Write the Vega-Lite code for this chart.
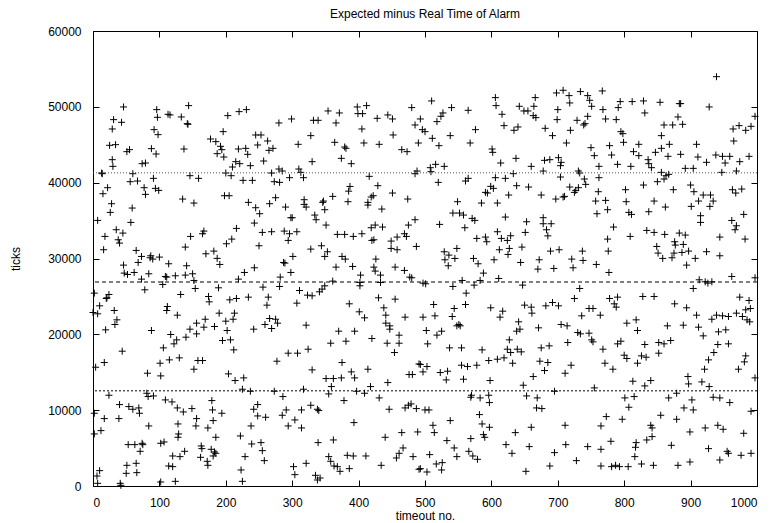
{
"$schema": "https://vega.github.io/schema/vega-lite/v6.json",
"width": 664, "height": 455,
"autosize": {"type": "none"},
"padding": {"left": 93, "top": 31, "right": 14, "bottom": 37},
"background": "white",
"title": {"text": "Expected minus Real Time of Alarm", "font": "Liberation Sans", "fontSize": 12, "fontWeight": "normal", "color": "black", "offset": 4},
"config": {
  "view": {"stroke": "black", "strokeWidth": 1},
  "axis": {"grid": false, "domain": false, "tickColor": "black", "tickSize": -6, "labelFont": "Liberation Sans", "labelFontSize": 12, "labelColor": "black", "titleFont": "Liberation Sans", "titleFontSize": 12, "titleFontWeight": "normal", "titleColor": "black", "format": "d"}
},
"datasets": {
"pts": [
{"x":46,"y":49984},{"x":96,"y":49632},{"x":144,"y":50160},{"x":113,"y":49016},{"x":116,"y":48928},{"x":97,"y":48620},{"x":133,"y":48664},{"x":31,"y":48312},{"x":43,"y":47960},{"x":142,"y":47784},{"x":143,"y":47696},{"x":29,"y":47080},{"x":92,"y":46992},{"x":98,"y":46332},{"x":25,"y":44924},{"x":34,"y":45012},{"x":51,"y":44088},{"x":55,"y":44352},{"x":88,"y":44484},{"x":95,"y":43780},{"x":137,"y":44440},{"x":29,"y":43032},{"x":30,"y":42152},{"x":74,"y":42504},{"x":79,"y":42592},{"x":13,"y":41272},{"x":14,"y":41184},{"x":60,"y":41184},{"x":146,"y":40920},{"x":159,"y":40568},{"x":91,"y":40568},{"x":56,"y":40128},{"x":67,"y":40216},{"x":22,"y":39336},{"x":15,"y":38544},{"x":77,"y":39336},{"x":94,"y":39248},{"x":99,"y":38984},{"x":79,"y":38456},{"x":135,"y":37840},{"x":152,"y":37312},{"x":28,"y":37224},{"x":26,"y":36080},{"x":59,"y":36652},{"x":7,"y":35024},{"x":57,"y":34760},{"x":35,"y":33792},{"x":45,"y":33352},{"x":18,"y":32912},{"x":38,"y":32472},{"x":40,"y":32032},{"x":147,"y":32912},{"x":16,"y":31152},{"x":139,"y":31504},{"x":65,"y":31064},{"x":73,"y":30272},{"x":87,"y":30360},{"x":86,"y":30096},{"x":100,"y":30184},{"x":68,"y":29480},{"x":46,"y":29128},{"x":90,"y":29920},{"x":114,"y":29304},{"x":141,"y":29040},{"x":47,"y":28072},{"x":52,"y":27896},{"x":62,"y":28160},{"x":84,"y":27984},{"x":109,"y":27632},{"x":111,"y":27544},{"x":124,"y":27720},{"x":139,"y":27808},{"x":150,"y":27984},{"x":73,"y":27280},{"x":105,"y":26576},{"x":152,"y":27104},{"x":2,"y":25432},{"x":24,"y":25256},{"x":20,"y":24728},{"x":21,"y":24816},{"x":78,"y":25872},{"x":132,"y":25256},{"x":154,"y":26048},{"x":10,"y":23760},{"x":112,"y":23672},{"x":111,"y":23144},{"x":127,"y":22528},{"x":32,"y":23144},{"x":7,"y":22704},{"x":0,"y":22880},{"x":36,"y":21912},{"x":33,"y":21296},{"x":19,"y":20592},{"x":88,"y":20504},{"x":156,"y":21472},{"x":146,"y":20680},{"x":117,"y":19976},{"x":140,"y":19624},{"x":156,"y":20064},{"x":126,"y":19272},{"x":122,"y":18744},{"x":106,"y":18216},{"x":44,"y":17776},{"x":17,"y":16280},{"x":115,"y":16632},{"x":130,"y":16896},{"x":158,"y":16544},{"x":4,"y":15664},{"x":101,"y":16192},{"x":152,"y":15400},{"x":82,"y":14872},{"x":102,"y":14520},{"x":24,"y":11968},{"x":81,"y":12232},{"x":83,"y":11792},{"x":91,"y":11880},{"x":40,"y":10736},{"x":54,"y":10472},{"x":60,"y":10120},{"x":69,"y":10296},{"x":70,"y":9592},{"x":109,"y":11352},{"x":119,"y":11088},{"x":127,"y":10296},{"x":136,"y":9768},{"x":149,"y":10208},{"x":2,"y":9592},{"x":17,"y":8888},{"x":39,"y":8888},{"x":156,"y":8888},{"x":128,"y":8184},{"x":84,"y":7920},{"x":155,"y":7920},{"x":12,"y":7304},{"x":2,"y":6864},{"x":129,"y":6864},{"x":128,"y":6424},{"x":53,"y":5456},{"x":63,"y":5456},{"x":74,"y":5632},{"x":75,"y":5456},{"x":102,"y":5632},{"x":107,"y":5808},{"x":71,"y":4576},{"x":138,"y":4576},{"x":120,"y":3960},{"x":131,"y":3872},{"x":65,"y":2992},{"x":51,"y":2728},{"x":114,"y":2640},{"x":120,"y":2552},{"x":10,"y":2024},{"x":6,"y":1320},{"x":50,"y":1672},{"x":66,"y":1760},{"x":7,"y":352},{"x":41,"y":352},{"x":42,"y":88},{"x":102,"y":528},{"x":124,"y":616},
{"x":231,"y":49632},{"x":220,"y":49368},{"x":203,"y":48840},{"x":280,"y":47872},{"x":299,"y":48400},{"x":196,"y":46728},{"x":177,"y":45760},{"x":185,"y":45408},{"x":192,"y":44792},{"x":194,"y":44352},{"x":187,"y":43824},{"x":197,"y":43384},{"x":245,"y":46288},{"x":253,"y":46288},{"x":248,"y":44968},{"x":263,"y":45496},{"x":309,"y":45056},{"x":219,"y":44440},{"x":230,"y":44528},{"x":233,"y":43736},{"x":265,"y":44264},{"x":271,"y":44528},{"x":257,"y":42856},{"x":215,"y":42768},{"x":221,"y":42504},{"x":210,"y":42064},{"x":237,"y":42240},{"x":200,"y":41272},{"x":208,"y":40920},{"x":226,"y":40304},{"x":240,"y":40304},{"x":269,"y":41272},{"x":280,"y":41800},{"x":285,"y":41536},{"x":273,"y":40128},{"x":281,"y":40040},{"x":296,"y":40656},{"x":310,"y":41800},{"x":313,"y":41360},{"x":317,"y":40656},{"x":198,"y":38280},{"x":205,"y":38280},{"x":234,"y":37400},{"x":245,"y":36696},{"x":251,"y":35904},{"x":266,"y":37224},{"x":275,"y":38016},{"x":290,"y":36784},{"x":318,"y":37752},{"x":318,"y":37136},{"x":321,"y":36784},{"x":298,"y":35376},{"x":300,"y":35376},{"x":243,"y":34672},{"x":216,"y":33968},{"x":255,"y":33440},{"x":269,"y":33528},{"x":288,"y":33616},{"x":296,"y":33264},{"x":307,"y":33528},{"x":294,"y":32384},{"x":209,"y":32560},{"x":201,"y":31944},{"x":250,"y":31680},{"x":165,"y":33264},{"x":167,"y":33616},{"x":182,"y":30976},{"x":187,"y":30016},{"x":191,"y":29216},{"x":170,"y":30624},{"x":301,"y":30272},{"x":287,"y":29480},{"x":289,"y":29392},{"x":298,"y":28160},{"x":243,"y":28776},{"x":228,"y":28160},{"x":219,"y":27280},{"x":282,"y":27544},{"x":189,"y":26136},{"x":174,"y":24992},{"x":175,"y":24288},{"x":256,"y":26224},{"x":281,"y":26312},{"x":311,"y":25784},{"x":323,"y":25168},{"x":206,"y":24552},{"x":216,"y":24728},{"x":234,"y":24904},{"x":264,"y":24904},{"x":262,"y":23848},{"x":307,"y":24112},{"x":190,"y":22792},{"x":213,"y":22792},{"x":211,"y":21992},{"x":200,"y":21736},{"x":169,"y":21992},{"x":167,"y":20944},{"x":183,"y":21032},{"x":202,"y":20504},{"x":242,"y":20680},{"x":266,"y":22088},{"x":275,"y":21992},{"x":259,"y":21296},{"x":269,"y":20768},{"x":278,"y":21472},{"x":321,"y":21208},{"x":195,"y":19184},{"x":207,"y":19272},{"x":212,"y":17952},{"x":165,"y":16544},{"x":277,"y":16456},{"x":294,"y":17512},{"x":308,"y":17512},{"x":324,"y":18040},{"x":204,"y":14784},{"x":214,"y":13904},{"x":227,"y":14256},{"x":225,"y":12760},{"x":237,"y":12496},{"x":273,"y":12496},{"x":286,"y":11792},{"x":317,"y":12760},{"x":179,"y":11264},{"x":180,"y":10032},{"x":194,"y":9592},{"x":181,"y":8624},{"x":173,"y":7656},{"x":242,"y":10120},{"x":248,"y":10736},{"x":248,"y":9240},{"x":260,"y":9064},{"x":285,"y":9328},{"x":291,"y":10032},{"x":304,"y":8712},{"x":314,"y":10032},{"x":314,"y":7656},{"x":238,"y":7920},{"x":294,"y":7920},{"x":222,"y":6600},{"x":185,"y":6424},{"x":239,"y":5544},{"x":253,"y":5720},{"x":255,"y":4664},{"x":163,"y":5280},{"x":164,"y":4928},{"x":178,"y":4840},{"x":183,"y":4488},{"x":185,"y":4312},{"x":181,"y":3960},{"x":172,"y":3256},{"x":173,"y":2728},{"x":162,"y":3784},{"x":229,"y":3872},{"x":258,"y":3344},{"x":223,"y":2112},{"x":225,"y":616},{"x":302,"y":2552},{"x":304,"y":1496},{"x":321,"y":2992},
{"x":354,"y":49456},{"x":371,"y":49192},{"x":398,"y":49984},{"x":412,"y":50160},{"x":399,"y":49104},{"x":406,"y":49104},{"x":332,"y":48224},{"x":339,"y":48224},{"x":366,"y":47872},{"x":428,"y":48488},{"x":444,"y":48928},{"x":451,"y":48400},{"x":480,"y":49896},{"x":485,"y":47608},{"x":405,"y":47080},{"x":328,"y":46200},{"x":364,"y":45320},{"x":379,"y":44704},{"x":381,"y":44528},{"x":408,"y":45232},{"x":431,"y":45056},{"x":452,"y":46288},{"x":490,"y":45232},{"x":465,"y":44352},{"x":473,"y":44088},{"x":374,"y":43208},{"x":389,"y":42504},{"x":330,"y":42768},{"x":485,"y":41184},{"x":488,"y":41536},{"x":416,"y":40832},{"x":387,"y":39504},{"x":385,"y":38880},{"x":429,"y":39600},{"x":451,"y":38632},{"x":422,"y":38280},{"x":419,"y":38104},{"x":361,"y":38192},{"x":347,"y":37576},{"x":346,"y":37400},{"x":384,"y":37488},{"x":414,"y":37400},{"x":414,"y":37048},{"x":435,"y":36520},{"x":474,"y":37840},{"x":349,"y":36432},{"x":334,"y":35728},{"x":336,"y":35112},{"x":351,"y":34408},{"x":368,"y":33176},{"x":379,"y":33176},{"x":392,"y":32912},{"x":405,"y":33264},{"x":419,"y":34056},{"x":425,"y":34408},{"x":436,"y":34144},{"x":420,"y":32384},{"x":423,"y":32472},{"x":449,"y":32296},{"x":458,"y":32824},{"x":469,"y":33264},{"x":472,"y":32912},{"x":475,"y":34408},{"x":485,"y":35112},{"x":328,"y":31240},{"x":344,"y":31680},{"x":353,"y":30888},{"x":349,"y":30272},{"x":375,"y":30272},{"x":380,"y":29920},{"x":449,"y":31328},{"x":458,"y":31152},{"x":487,"y":31592},{"x":366,"y":28864},{"x":391,"y":28952},{"x":426,"y":29920},{"x":423,"y":28864},{"x":425,"y":28336},{"x":433,"y":27808},{"x":455,"y":28864},{"x":469,"y":28424},{"x":477,"y":27544},{"x":480,"y":27456},{"x":403,"y":27808},{"x":402,"y":26840},{"x":402,"y":26400},{"x":433,"y":26840},{"x":361,"y":27016},{"x":349,"y":26400},{"x":345,"y":25960},{"x":341,"y":25608},{"x":330,"y":25080},{"x":386,"y":24024},{"x":401,"y":22968},{"x":409,"y":22176},{"x":430,"y":24816},{"x":455,"y":24640},{"x":438,"y":23496},{"x":441,"y":22528},{"x":441,"y":21472},{"x":447,"y":21120},{"x":447,"y":20680},{"x":461,"y":19888},{"x":470,"y":22264},{"x":370,"y":20416},{"x":394,"y":20416},{"x":358,"y":18832},{"x":381,"y":19096},{"x":420,"y":19448},{"x":443,"y":18832},{"x":461,"y":18832},{"x":454,"y":17600},{"x":375,"y":16280},{"x":330,"y":15312},{"x":389,"y":15048},{"x":394,"y":14256},{"x":414,"y":15400},{"x":351,"y":14168},{"x":362,"y":14168},{"x":374,"y":14256},{"x":359,"y":13112},{"x":355,"y":12144},{"x":397,"y":12496},{"x":409,"y":12232},{"x":418,"y":13112},{"x":444,"y":13640},{"x":476,"y":14696},{"x":481,"y":14696},{"x":491,"y":16104},{"x":328,"y":10648},{"x":338,"y":10120},{"x":340,"y":9944},{"x":378,"y":11264},{"x":431,"y":11616},{"x":446,"y":10120},{"x":470,"y":10296},{"x":475,"y":10648},{"x":479,"y":10824},{"x":487,"y":10208},{"x":393,"y":8360},{"x":339,"y":5720},{"x":362,"y":6072},{"x":440,"y":6424},{"x":465,"y":7040},{"x":489,"y":7128},{"x":467,"y":5016},{"x":461,"y":4312},{"x":457,"y":3696},{"x":355,"y":3872},{"x":358,"y":3256},{"x":363,"y":2640},{"x":368,"y":2552},{"x":372,"y":1936},{"x":383,"y":4048},{"x":392,"y":3960},{"x":411,"y":3960},{"x":386,"y":2288},{"x":434,"y":2728},{"x":482,"y":3872},{"x":335,"y":1408},{"x":342,"y":1056},{"x":338,"y":792},{"x":491,"y":2200},
{"x":510,"y":50776},{"x":540,"y":49896},{"x":565,"y":49544},{"x":606,"y":51216},{"x":607,"y":50160},{"x":616,"y":49016},{"x":642,"y":50072},{"x":649,"y":49456},{"x":655,"y":49456},{"x":493,"y":48400},{"x":527,"y":49192},{"x":524,"y":48752},{"x":518,"y":48048},{"x":576,"y":46992},{"x":619,"y":47520},{"x":634,"y":46904},{"x":640,"y":47344},{"x":496,"y":46992},{"x":500,"y":46728},{"x":511,"y":45848},{"x":538,"y":46200},{"x":521,"y":44880},{"x":568,"y":45232},{"x":601,"y":44440},{"x":602,"y":44000},{"x":614,"y":42592},{"x":637,"y":43208},{"x":516,"y":42416},{"x":529,"y":42152},{"x":508,"y":41976},{"x":509,"y":41448},{"x":520,"y":40040},{"x":561,"y":40216},{"x":565,"y":40568},{"x":591,"y":38720},{"x":594,"y":38632},{"x":599,"y":39512},{"x":603,"y":39248},{"x":606,"y":40656},{"x":621,"y":40568},{"x":633,"y":41184},{"x":638,"y":39600},{"x":656,"y":39424},{"x":626,"y":38368},{"x":549,"y":37488},{"x":585,"y":37312},{"x":609,"y":37312},{"x":542,"y":35992},{"x":552,"y":35992},{"x":558,"y":35728},{"x":571,"y":35288},{"x":575,"y":35024},{"x":560,"y":34056},{"x":522,"y":34496},{"x":621,"y":35464},{"x":653,"y":34848},{"x":651,"y":33440},{"x":578,"y":32648},{"x":591,"y":32824},{"x":593,"y":32208},{"x":609,"y":33528},{"x":615,"y":32648},{"x":624,"y":32384},{"x":629,"y":33000},{"x":612,"y":31152},{"x":627,"y":31328},{"x":625,"y":30536},{"x":646,"y":31504},{"x":644,"y":29480},{"x":529,"y":30888},{"x":536,"y":30448},{"x":545,"y":30008},{"x":548,"y":31328},{"x":530,"y":29832},{"x":535,"y":29040},{"x":573,"y":30008},{"x":580,"y":29304},{"x":588,"y":28072},{"x":604,"y":29832},{"x":497,"y":26752},{"x":501,"y":26664},{"x":542,"y":26312},{"x":556,"y":27104},{"x":574,"y":26488},{"x":583,"y":27104},{"x":611,"y":27368},{"x":647,"y":26488},{"x":562,"y":25432},{"x":561,"y":23936},{"x":513,"y":23936},{"x":544,"y":23408},{"x":497,"y":22264},{"x":515,"y":22440},{"x":541,"y":22352},{"x":548,"y":21120},{"x":551,"y":21296},{"x":553,"y":21120},{"x":599,"y":23496},{"x":617,"y":23056},{"x":613,"y":22264},{"x":650,"y":23848},{"x":641,"y":21648},{"x":638,"y":20416},{"x":643,"y":20680},{"x":502,"y":20504},{"x":518,"y":19896},{"x":525,"y":20416},{"x":504,"y":18744},{"x":537,"y":18216},{"x":555,"y":18216},{"x":586,"y":17952},{"x":596,"y":16544},{"x":609,"y":16720},{"x":619,"y":16896},{"x":627,"y":19272},{"x":624,"y":18040},{"x":629,"y":17600},{"x":639,"y":18040},{"x":645,"y":17688},{"x":632,"y":16192},{"x":493,"y":16016},{"x":503,"y":15752},{"x":497,"y":15048},{"x":523,"y":14960},{"x":534,"y":15136},{"x":532,"y":13992},{"x":555,"y":15928},{"x":564,"y":15752},{"x":578,"y":15928},{"x":558,"y":14080},{"x":598,"y":13904},{"x":648,"y":13288},{"x":653,"y":11880},{"x":570,"y":11968},{"x":569,"y":11704},{"x":583,"y":11616},{"x":596,"y":11968},{"x":597,"y":11000},{"x":500,"y":10032},{"x":506,"y":10032},{"x":538,"y":8624},{"x":582,"y":9416},{"x":586,"y":8184},{"x":597,"y":7744},{"x":512,"y":8008},{"x":514,"y":7040},{"x":588,"y":6776},{"x":590,"y":6424},{"x":636,"y":7040},{"x":533,"y":5984},{"x":569,"y":6248},{"x":622,"y":5456},{"x":657,"y":5192},{"x":544,"y":5016},{"x":548,"y":3872},{"x":566,"y":4576},{"x":572,"y":3960},{"x":579,"y":3520},{"x":631,"y":4312},{"x":507,"y":4136},{"x":517,"y":2904},{"x":526,"y":3080},{"x":525,"y":2112},{"x":493,"y":2288},{"x":503,"y":1848},{"x":652,"y":1936},
{"x":666,"y":51216},{"x":698,"y":51832},{"x":708,"y":52184},{"x":717,"y":51480},{"x":734,"y":52008},{"x":745,"y":51480},{"x":748,"y":50864},{"x":751,"y":50072},{"x":767,"y":52096},{"x":794,"y":50688},{"x":812,"y":50688},{"x":791,"y":49896},{"x":768,"y":49632},{"x":664,"y":50072},{"x":663,"y":48840},{"x":667,"y":48576},{"x":700,"y":49632},{"x":718,"y":50512},{"x":699,"y":48312},{"x":729,"y":48224},{"x":741,"y":47784},{"x":745,"y":48752},{"x":739,"y":47608},{"x":772,"y":48400},{"x":788,"y":48312},{"x":681,"y":47168},{"x":692,"y":46200},{"x":719,"y":46904},{"x":713,"y":45232},{"x":795,"y":46728},{"x":798,"y":46464},{"x":799,"y":45320},{"x":750,"y":44616},{"x":755,"y":43560},{"x":778,"y":44880},{"x":781,"y":43648},{"x":814,"y":44088},{"x":822,"y":45056},{"x":822,"y":43560},{"x":660,"y":42152},{"x":680,"y":42944},{"x":688,"y":43032},{"x":701,"y":43296},{"x":705,"y":42680},{"x":704,"y":42240},{"x":678,"y":41536},{"x":704,"y":40744},{"x":731,"y":41536},{"x":733,"y":41272},{"x":762,"y":42152},{"x":790,"y":42416},{"x":810,"y":42152},{"x":740,"y":40480},{"x":742,"y":39776},{"x":762,"y":40656},{"x":718,"y":39424},{"x":725,"y":38720},{"x":727,"y":38984},{"x":731,"y":39336},{"x":761,"y":38808},{"x":802,"y":39072},{"x":675,"y":38368},{"x":697,"y":37840},{"x":708,"y":38104},{"x":710,"y":38192},{"x":757,"y":37576},{"x":772,"y":37664},{"x":803,"y":37488},{"x":759,"y":35904},{"x":775,"y":36432},{"x":807,"y":36080},{"x":811,"y":35816},{"x":678,"y":35376},{"x":678,"y":34584},{"x":690,"y":34584},{"x":683,"y":33792},{"x":685,"y":32984},{"x":784,"y":34144},{"x":775,"y":32560},{"x":809,"y":32912},{"x":689,"y":30976},{"x":702,"y":31152},{"x":737,"y":30976},{"x":776,"y":30976},{"x":672,"y":29832},{"x":721,"y":29920},{"x":738,"y":29744},{"x":758,"y":29216},{"x":670,"y":28600},{"x":694,"y":28688},{"x":723,"y":28776},{"x":777,"y":28160},{"x":733,"y":26048},{"x":725,"y":24728},{"x":682,"y":23760},{"x":692,"y":24200},{"x":701,"y":23760},{"x":736,"y":22440},{"x":747,"y":23408},{"x":753,"y":23408},{"x":764,"y":22528},{"x":778,"y":24728},{"x":790,"y":24904},{"x":785,"y":24024},{"x":788,"y":23584},{"x":660,"y":23584},{"x":661,"y":22792},{"x":671,"y":20856},{"x":705,"y":21296},{"x":714,"y":21120},{"x":730,"y":20240},{"x":734,"y":20064},{"x":747,"y":20152},{"x":751,"y":19272},{"x":753,"y":19008},{"x":715,"y":18920},{"x":675,"y":18216},{"x":687,"y":18480},{"x":768,"y":18040},{"x":790,"y":18744},{"x":795,"y":19096},{"x":804,"y":21472},{"x":818,"y":21912},{"x":820,"y":20504},{"x":673,"y":16456},{"x":685,"y":16280},{"x":680,"y":15224},{"x":720,"y":15928},{"x":771,"y":16192},{"x":783,"y":15400},{"x":800,"y":17248},{"x":804,"y":16808},{"x":820,"y":16192},{"x":663,"y":14432},{"x":711,"y":14872},{"x":695,"y":12496},{"x":755,"y":12936},{"x":813,"y":13816},{"x":669,"y":11616},{"x":668,"y":10296},{"x":676,"y":10208},{"x":801,"y":11616},{"x":815,"y":11792},{"x":807,"y":10384},{"x":660,"y":7744},{"x":711,"y":8008},{"x":773,"y":9152},{"x":765,"y":7920},{"x":797,"y":8800},{"x":712,"y":5456},{"x":745,"y":5192},{"x":765,"y":4840},{"x":780,"y":5896},{"x":818,"y":5720},{"x":817,"y":5104},{"x":695,"y":4400},{"x":728,"y":3344},{"x":688,"y":2640},{"x":765,"y":2640},{"x":781,"y":2552},{"x":787,"y":2728},{"x":793,"y":2552},{"x":806,"y":2552},{"x":816,"y":3872},
{"x":939,"y":53976},{"x":829,"y":50776},{"x":831,"y":49192},{"x":854,"y":50600},{"x":883,"y":50424},{"x":885,"y":50424},{"x":928,"y":49984},{"x":881,"y":48664},{"x":860,"y":47608},{"x":873,"y":47608},{"x":888,"y":47696},{"x":856,"y":46200},{"x":868,"y":45056},{"x":909,"y":45056},{"x":856,"y":44528},{"x":847,"y":44000},{"x":866,"y":43472},{"x":885,"y":43736},{"x":911,"y":43384},{"x":924,"y":42680},{"x":938,"y":43648},{"x":948,"y":43472},{"x":959,"y":43472},{"x":952,"y":42592},{"x":974,"y":42768},{"x":988,"y":43472},{"x":965,"y":45496},{"x":964,"y":47080},{"x":973,"y":47520},{"x":983,"y":46904},{"x":991,"y":47432},{"x":997,"y":48752},{"x":836,"y":43032},{"x":837,"y":42504},{"x":841,"y":41976},{"x":892,"y":41888},{"x":904,"y":41888},{"x":947,"y":41360},{"x":969,"y":41536},{"x":856,"y":41360},{"x":863,"y":40920},{"x":867,"y":41096},{"x":860,"y":40480},{"x":850,"y":40128},{"x":829,"y":39688},{"x":874,"y":39072},{"x":900,"y":39688},{"x":905,"y":38808},{"x":919,"y":38368},{"x":930,"y":38368},{"x":934,"y":37576},{"x":912,"y":37576},{"x":901,"y":36872},{"x":929,"y":36872},{"x":963,"y":39072},{"x":968,"y":38632},{"x":977,"y":39160},{"x":845,"y":37576},{"x":862,"y":36784},{"x":837,"y":36168},{"x":915,"y":35640},{"x":915,"y":34760},{"x":962,"y":35016},{"x":980,"y":35816},{"x":834,"y":33704},{"x":845,"y":33440},{"x":861,"y":33176},{"x":883,"y":33352},{"x":892,"y":33088},{"x":876,"y":32208},{"x":849,"y":31592},{"x":851,"y":30712},{"x":858,"y":30016},{"x":877,"y":31768},{"x":889,"y":31856},{"x":897,"y":30976},{"x":875,"y":30712},{"x":887,"y":30800},{"x":872,"y":30096},{"x":907,"y":30016},{"x":924,"y":30896},{"x":944,"y":30360},{"x":969,"y":34320},{"x":967,"y":33792},{"x":944,"y":32824},{"x":982,"y":32560},{"x":894,"y":29128},{"x":913,"y":27192},{"x":904,"y":26048},{"x":922,"y":26928},{"x":926,"y":26752},{"x":932,"y":26928},{"x":962,"y":27632},{"x":997,"y":27456},{"x":828,"y":24992},{"x":845,"y":24992},{"x":876,"y":24024},{"x":894,"y":23496},{"x":909,"y":22528},{"x":974,"y":24904},{"x":988,"y":24464},{"x":983,"y":23232},{"x":990,"y":23408},{"x":939,"y":22528},{"x":948,"y":22440},{"x":957,"y":22352},{"x":969,"y":22792},{"x":932,"y":21992},{"x":978,"y":22352},{"x":985,"y":21912},{"x":989,"y":21648},{"x":865,"y":21120},{"x":889,"y":21208},{"x":912,"y":20944},{"x":919,"y":19800},{"x":942,"y":20328},{"x":953,"y":20592},{"x":852,"y":18920},{"x":860,"y":18744},{"x":870,"y":19184},{"x":831,"y":18656},{"x":852,"y":17512},{"x":941,"y":18656},{"x":957,"y":18744},{"x":935,"y":17600},{"x":927,"y":16632},{"x":921,"y":15400},{"x":826,"y":17160},{"x":833,"y":16984},{"x":983,"y":17160},{"x":981,"y":16368},{"x":972,"y":15400},{"x":997,"y":14256},{"x":840,"y":13904},{"x":831,"y":13200},{"x":896,"y":14432},{"x":897,"y":13464},{"x":917,"y":13728},{"x":928,"y":13112},{"x":879,"y":12232},{"x":867,"y":11616},{"x":902,"y":11352},{"x":934,"y":11704},{"x":944,"y":11616},{"x":959,"y":11000},{"x":890,"y":10296},{"x":904,"y":10032},{"x":855,"y":9328},{"x":991,"y":9856},{"x":879,"y":8800},{"x":840,"y":8008},{"x":842,"y":7656},{"x":834,"y":6072},{"x":842,"y":6512},{"x":899,"y":7128},{"x":922,"y":7656},{"x":941,"y":8008},{"x":949,"y":7480},{"x":980,"y":6952},{"x":871,"y":5368},{"x":927,"y":4928},{"x":955,"y":4576},{"x":957,"y":4312},{"x":944,"y":3432},{"x":976,"y":4048},{"x":991,"y":4312},{"x":899,"y":3168},{"x":881,"y":2728},{"x":844,"y":2728},{"x":826,"y":2904}
]
},
"layer": [
  {
    "data": {"name": "pts"},
    "mark": {"type": "point", "shape": "M-1,0H1M0,-1V1", "size": 49, "filled": false, "stroke": "black", "strokeWidth": 1, "opacity": 1},
    "encoding": {
      "x": {"field": "x", "type": "quantitative", "scale": {"domain": [0, 1000], "nice": false, "zero": false}, "axis": {"values": [0,100,200,300,400,500,600,700,800,900,1000], "title": "timeout no.", "labelPadding": 17, "titlePadding": 2}},
      "y": {"field": "y", "type": "quantitative", "scale": {"domain": [0, 60000], "nice": false}, "axis": {"values": [0,10000,20000,30000,40000,50000,60000], "title": "ticks", "labelPadding": 18, "titlePadding": 25}}
    }
  },
  {
    "data": {"values": [{"y": 41300}]},
    "mark": {"type": "rule", "stroke": "#555555", "strokeWidth": 1, "strokeDash": [1, 2]},
    "encoding": {"y": {"field": "y", "type": "quantitative", "axis": null}}
  },
  {
    "data": {"values": [{"y": 26900}]},
    "mark": {"type": "rule", "stroke": "black", "strokeWidth": 1, "strokeDash": [4, 3]},
    "encoding": {"y": {"field": "y", "type": "quantitative", "axis": null}}
  },
  {
    "data": {"values": [{"y": 12550}]},
    "mark": {"type": "rule", "stroke": "black", "strokeWidth": 1, "strokeDash": [2, 2]},
    "encoding": {"y": {"field": "y", "type": "quantitative", "axis": null}}
  },
  {
    "data": {"name": "pts"},
    "mark": {"type": "point", "opacity": 0},
    "encoding": {
      "x": {"field": "x", "type": "quantitative", "axis": {"orient": "top", "values": [0,100,200,300,400,500,600,700,800,900,1000], "labels": false, "title": null}},
      "y": {"field": "y", "type": "quantitative", "axis": {"orient": "right", "values": [0,10000,20000,30000,40000,50000,60000], "labels": false, "title": null}}
    }
  }
],
"resolve": {"axis": {"x": "independent", "y": "independent"}}
}
